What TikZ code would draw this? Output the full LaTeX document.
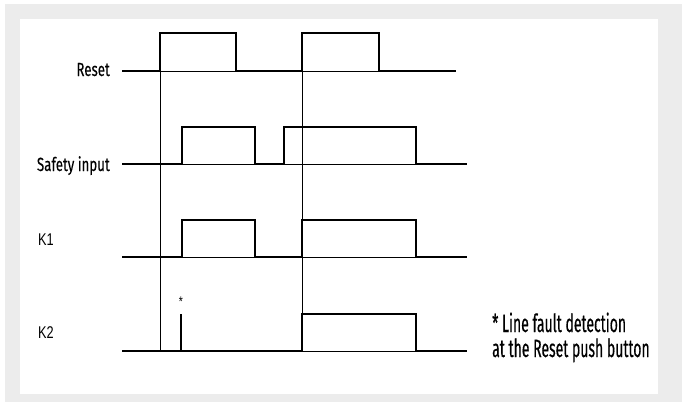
\documentclass[tikz,border=0pt]{standalone}
\usepackage{fontspec}
\usetikzlibrary{positioning}
\newfontfamily\condfont[FakeStretch=0.7,FakeBold=0.2]{Fira Sans}
\newfontfamily\notefont[FakeStretch=0.56,FakeBold=0.4]{Fira Sans}
\newfontfamily\kfont[FakeStretch=0.75]{Liberation Sans}
\definecolor{panelgray}{HTML}{ECECEC}
\tikzset{
  axisln/.style={line width=0.6pt},
  wave/.style={line width=2pt,line join=miter},
  guide/.style={line width=0.7pt},
  siglbl/.style={font=\condfont\fontsize{19}{22}\selectfont,inner sep=0pt,anchor=base east},
  klbl/.style={font=\kfont\fontsize{17}{20}\selectfont,inner sep=0pt,anchor=base west},
  notelbl/.style={font=\notefont\fontsize{25}{25}\selectfont,inner sep=0pt,anchor=base west},
}
\begin{document}
\begin{tikzpicture}[x=1pt,y=-1pt]
  \useasboundingbox (0,0) rectangle (682,402);
  % Panel
  \fill[panelgray] (5,4) rectangle (682,402);
  \fill[white] (20,19) rectangle (658,394);

  % Signal labels
  \node[siglbl] (lrst) at (110,76) {Reset};
  \node[siglbl] (lsaf) at (110,171) {Safety input};
  \node[klbl] (lk1) at (38,245) {K1};
  \node[klbl] (lk2) at (38,338) {K2};

  % Axes
  \draw[axisln] (122,71) -- (456,71);
  \draw[axisln] (122,164) -- (467,164);
  \draw[axisln] (122,257) -- (467,257);
  \draw[axisln] (122,351) -- (467,351);

  % Reset edges
  \draw[guide] (160,33) -- (160,351);
  \draw[guide] (302,33) -- (302,351);

  % Waveforms
  \draw[wave] (122,71) -| (160,33) -| (236,71) -| (302,33) -| (379,71) -- (456,71);
  \draw[wave] (122,164) -| (182,127) -| (255,164) -| (284,127) -| (416,164) -- (467,164);
  \draw[wave] (122,257) -| (182,220) -| (255,257) -| (302,220) -| (416,257) -- (467,257);
  \draw[wave] (122,351) -| (302,314) -| (416,351) -- (467,351);
  \draw[wave] (181,351) -- (181,314);

  % Line fault marker and note
  \node[font=\kfont\fontsize{14}{14}\selectfont,inner sep=0pt] (star) at (181,302) {*};
  \node[notelbl] (note1) at (492,332) {* Line fault detection};
  \node[notelbl] (note2) at (492,357) {at the Reset push button};
\end{tikzpicture}
\end{document}
